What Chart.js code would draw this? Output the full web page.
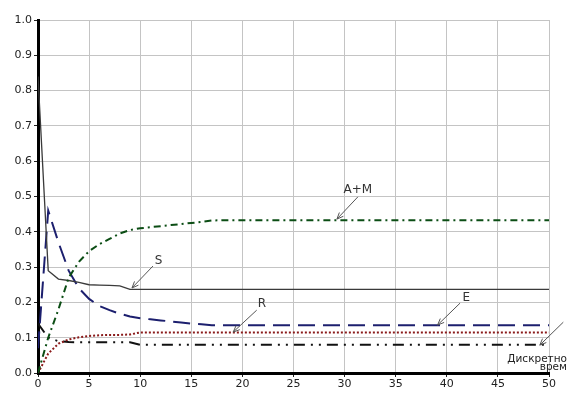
<!DOCTYPE html>
<html>
<head>
<meta charset="utf-8">
<script src="https://cdn.jsdelivr.net/npm/chart.js@4.4.1/dist/chart.umd.min.js"></script>
<style>
  html, body { margin: 0; padding: 0; background: #ffffff; }
  #wrap { width: 568px; height: 393px; position: relative; }
</style>
</head>
<body>
<div id="wrap"><canvas id="c" width="568" height="393"></canvas></div>
<script>
// Discrete time steps
const steps = [0,1,2,3,4,5,6,7,8,9,10,11,12,13,14,15,16,17,18,19,20,25,30,35,40,45,50];

// State shares over time
const seriesS  = [0.84,0.29,0.266,0.262,0.257,0.25,0.249,0.248,0.247,0.237,0.237,0.237,0.237,0.237,0.237,0.237,0.237,0.237,0.237,0.237,0.237,0.237,0.237,0.237,0.237,0.237,0.237];
const seriesE  = [0.07,0.46,0.37,0.29,0.24,0.21,0.19,0.178,0.168,0.16,0.155,0.152,0.149,0.146,0.143,0.14,0.138,0.135,0.135,0.135,0.135,0.135,0.135,0.135,0.135,0.135,0.135];
const seriesAM = [0,0.1,0.18,0.27,0.315,0.345,0.365,0.38,0.395,0.405,0.41,0.413,0.416,0.419,0.422,0.425,0.428,0.432,0.433,0.433,0.433,0.433,0.433,0.433,0.433,0.433,0.433];
const seriesR  = [0,0.055,0.083,0.095,0.101,0.105,0.107,0.108,0.108,0.109,0.115,0.115,0.115,0.115,0.115,0.115,0.115,0.115,0.115,0.115,0.115,0.115,0.115,0.115,0.115,0.115,0.115];
const seriesD  = [0.14,0.1,0.09,0.088,0.087,0.087,0.087,0.087,0.087,0.087,0.08,0.08,0.08,0.08,0.08,0.08,0.08,0.08,0.08,0.08,0.08,0.08,0.08,0.08,0.08,0.08,0.08];

const xTicks = [0,5,10,15,20,25,30,35,40,45,50];
const yTicks = [0,0.1,0.2,0.3,0.4,0.5,0.6,0.7,0.8,0.9,1.0];

// Callout labels: text, text anchor, arrow tail, arrow tip (data units)
const callouts = [
  { text: 'S',   tx: 11.8, ty: 0.317, x0: 11.25, y0: 0.303, x1: 9.2,  y1: 0.241 },
  { text: 'A+M', tx: 31.3, ty: 0.518, x0: 31.3,  y0: 0.499, x1: 29.25, y1: 0.436 },
  { text: 'R',   tx: 21.9, ty: 0.197, x0: 21.4,  y0: 0.178, x1: 19.1, y1: 0.116 },
  { text: 'E',   tx: 41.9, ty: 0.214, x0: 41.3,  y0: 0.198, x1: 39.1, y1: 0.136 },
  { text: '',    tx: 0,    ty: 0,     x0: 51.4,  y0: 0.144, x1: 49.1, y1: 0.079 }
];

const toXY = arr => steps.map((s, i) => ({ x: s, y: arr[i] }));

const calloutPlugin = {
  id: 'callouts',
  afterDatasetsDraw(chart) {
    const { ctx, scales: { x, y }, chartArea } = chart;
    ctx.save();
    ctx.strokeStyle = '#555';
    ctx.fillStyle = '#333';
    ctx.lineWidth = 1;
    ctx.font = '12px "DejaVu Sans", Verdana, sans-serif';
    ctx.textAlign = 'center';
    ctx.textBaseline = 'middle';
    callouts.forEach(c => {
      const ax = x.getPixelForValue(c.x0), ay = y.getPixelForValue(c.y0);
      const bx = x.getPixelForValue(c.x1), by = y.getPixelForValue(c.y1);
      ctx.beginPath();
      ctx.moveTo(ax, ay);
      ctx.lineTo(bx, by);
      ctx.stroke();
      const ang = Math.atan2(by - ay, bx - ax);
      const len = 7, spread = 0.4;
      ctx.beginPath();
      ctx.moveTo(bx - len * Math.cos(ang - spread), by - len * Math.sin(ang - spread));
      ctx.lineTo(bx, by);
      ctx.lineTo(bx - len * Math.cos(ang + spread), by - len * Math.sin(ang + spread));
      ctx.stroke();
      if (c.text) {
        ctx.fillText(c.text, x.getPixelForValue(c.tx), y.getPixelForValue(c.ty));
      }
    });
    // axis title at the lower right
    ctx.fillStyle = '#222';
    ctx.font = '10.5px "DejaVu Sans", Verdana, sans-serif';
    ctx.textAlign = 'right';
    ctx.fillText('Дискретно', 567, chartArea.bottom - 14);
    ctx.fillText('врем', 567, chartArea.bottom - 6);
    ctx.restore();
  }
};

const common = { pointRadius: 0, tension: 0, fill: false };

new Chart(document.getElementById('c'), {
  type: 'line',
  data: {
    datasets: [
      { ...common, label: 'A+M', data: toXY(seriesAM), borderColor: '#0b4d14', borderWidth: 2, borderDash: [7, 4, 2, 4] },
      { ...common, label: 'S',   data: toXY(seriesS),  borderColor: '#3a3a3a', borderWidth: 1.3 },
      { ...common, label: 'E',   data: toXY(seriesE),  borderColor: '#1c1f6e', borderWidth: 2, borderDash: [17, 8] },
      { ...common, label: 'R',   data: toXY(seriesR),  borderColor: '#8a1a1a', borderWidth: 2, borderDash: [2, 2] },
      { ...common, label: 'D',   data: toXY(seriesD),  borderColor: '#111111', borderWidth: 2, borderDash: [11, 6, 2, 6, 2, 6] }
    ]
  },
  options: {
    responsive: false,
    animation: false,
    layout: { padding: { left: 0, right: 19, top: 20, bottom: 0 } },
    plugins: { legend: { display: false }, tooltip: { enabled: false } },
    scales: {
      x: {
        type: 'linear', min: 0, max: 50,
        afterFit(s) { s.height = 20; },
        afterBuildTicks(s) { s.ticks = xTicks.map(v => ({ value: v })); },
        ticks: { color: '#222', font: { family: '"DejaVu Sans", Verdana, sans-serif', size: 11 }, padding: 1, maxRotation: 0 },
        grid: { color: '#c4c4c4', lineWidth: 1, tickLength: 4, tickColor: '#222' },
        border: { color: '#000', width: 3 }
      },
      y: {
        type: 'linear', min: 0, max: 1,
        afterFit(s) { s.width = 38; },
        afterBuildTicks(s) { s.ticks = yTicks.map(v => ({ value: v })); },
        ticks: { color: '#222', font: { family: '"DejaVu Sans", Verdana, sans-serif', size: 11 }, padding: 2,
                 callback: v => v.toFixed(1) },
        grid: { color: '#c4c4c4', lineWidth: 1, tickLength: 4, tickColor: '#222' },
        border: { color: '#000', width: 3 }
      }
    }
  },
  plugins: [calloutPlugin]
});
</script>
</body>
</html>
